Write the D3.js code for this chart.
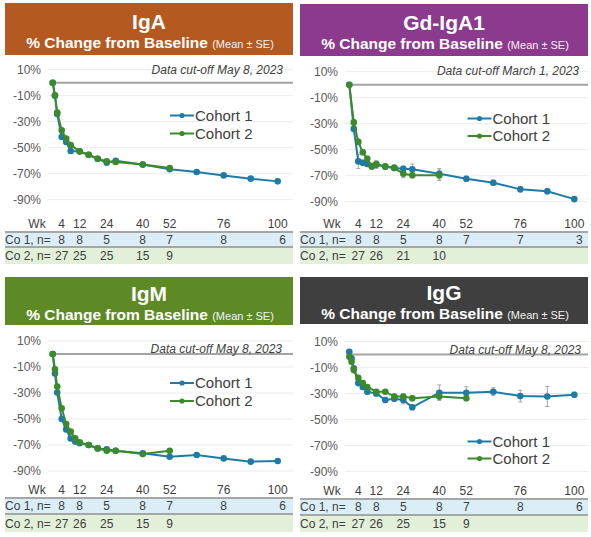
<!DOCTYPE html>
<html><head><meta charset="utf-8">
<script src="https://cdn.jsdelivr.net/npm/d3@7"></script>
<style>
body{margin:0;background:#fff}
svg{display:block}
text{font-family:"Liberation Sans",Arial,Helvetica,sans-serif}
</style>
</head><body>
<svg id="chart" width="591" height="537"></svg>
<script>
// ---------- DATA ----------
const panelTitles = ["IgA", "Gd-IgA1", "IgM", "IgG"];
const subtitleMain = "% Change from Baseline";
const subtitleNote = "(Mean \u00b1 SE)";
const cutoffLabels = ["Data cut-off May 8, 2023", "Data cut-off March 1, 2023", "Data cut-off May 8, 2023", "Data cut-off May 8, 2023"];
const seriesNames = ["Cohort 1", "Cohort 2"];
const yTicks = [10, -10, -30, -50, -70, -90];
const yTickLabels = ["10%", "-10%", "-30%", "-50%", "-70%", "-90%"];
const xTickWeeks = [4, 12, 24, 40, 52, 76, 100];
const xTickLabels = ["4", "12", "24", "40", "52", "76", "100"];
const rowLabels = ["Co 1, n=", "Co 2, n="];

// IgA
const igaWeeks1 = [0, 1, 2, 4, 6, 8, 12, 16, 20, 24, 28, 40, 52, 64, 76, 88, 100];
const igaCo1 = [0, -10, -24, -41.8, -45.6, -52.5, -53, -55.5, -58.5, -61.5, -60, -63, -66.6, -68.7, -71.3, -73.8, -75.9];
const igaWeeks2 = [0, 1, 2, 4, 6, 8, 12, 16, 20, 24, 28, 40, 52];
const igaCo2 = [0, -9.7, -23, -36.6, -43, -48, -52.8, -55.4, -58.5, -60.5, -61, -63, -65.6];
const igaN1 = ["8", "8", "5", "8", "7", "8", "6"];
const igaN2 = ["27", "25", "25", "15", "9"];

// Gd-IgA1
const gdWeeks1 = [0, 2, 4, 6, 8, 10, 12, 16, 20, 24, 28, 40, 52, 64, 76, 88, 100];
const gdCo1 = [0, -34, -59, -60, -61, -62.5, -61.5, -63, -64, -64.6, -65, -68.5, -72.3, -75.4, -80.5, -82, -88];
const gdSe1 = [0, 2, 5.5, 2, 2, 2, 3, 2, 2, 2, 4, 4, 2, 2, 2, 2, 2];
const gdWeeks2 = [0, 2, 4, 6, 8, 10, 12, 16, 20, 24, 28, 40];
const gdCo2 = [0, -29, -44, -52, -57, -63, -61, -63, -64, -68.5, -69.7, -69.7];
const gdSe2 = [0, 2, 2, 2, 2, 2, 2, 2, 2, 3, 2, 4];
const gdN1 = ["8", "8", "5", "8", "7", "7", "3"];
const gdN2 = ["27", "26", "21", "10"];

// IgM
const igmWeeks1 = [0, 1, 2, 4, 6, 8, 10, 12, 16, 20, 24, 28, 40, 52, 64, 76, 88, 100];
const igmCo1 = [0, -15, -29.7, -50, -58, -65, -67.4, -68.7, -70, -72.6, -73.3, -74.4, -76.4, -79, -77.7, -80.3, -82.8, -82.3];
const igmWeeks2 = [0, 1, 2, 4, 6, 8, 10, 12, 16, 20, 24, 28, 40, 52];
const igmCo2 = [0, -11.8, -25, -41.8, -53.8, -59.7, -64.9, -68, -70, -72.6, -74.4, -74.4, -77, -74.4];
const igmN1 = ["8", "8", "5", "8", "7", "8", "6"];
const igmN2 = ["27", "26", "25", "15", "9"];

// IgG
const iggWeeks1 = [0, 1, 2, 4, 6, 8, 12, 16, 20, 24, 28, 40, 52, 64, 76, 88, 100];
const iggCo1 = [2, -3, -10.6, -22, -25, -28.6, -30, -35, -34, -35, -40.6, -29.4, -29.4, -28.6, -32, -32.3, -31];
const iggSe1 = [0, 1, 1, 2, 2, 2, 2, 2, 2, 3, 2, 6, 4.6, 3, 4.5, 7.7, 2];
const iggWeeks2 = [0, 1, 2, 4, 6, 8, 12, 16, 20, 24, 28, 40, 52];
const iggCo2 = [-1.7, -5.5, -12, -18, -22, -25, -28.6, -28.6, -32.4, -32.4, -33.7, -32.4, -33.7];
const iggSe2 = [0, 1, 1, 1, 1, 1, 1, 1, 2, 2, 2, 2, 2];
const iggN1 = ["8", "8", "5", "8", "7", "8", "6"];
const iggN2 = ["27", "26", "25", "15", "9"];

// ---------- ASSEMBLY ----------
const panelData = [
  {w1: igaWeeks1, v1: igaCo1, s1: null, w2: igaWeeks2, v2: igaCo2, s2: null, n1: igaN1, n2: igaN2},
  {w1: gdWeeks1, v1: gdCo1, s1: gdSe1, w2: gdWeeks2, v2: gdCo2, s2: gdSe2, n1: gdN1, n2: gdN2},
  {w1: igmWeeks1, v1: igmCo1, s1: null, w2: igmWeeks2, v2: igmCo2, s2: null, n1: igmN1, n2: igmN2},
  {w1: iggWeeks1, v1: iggCo1, s1: iggSe1, w2: iggWeeks2, v2: iggCo2, s2: iggSe2, n1: iggN1, n2: iggN2}
];

// layout / style per panel
const layouts = [
  {hx: 5, hy: 3, hw: 288, hh: 52, tBase: 29, sBase: 48, xr: [52.7, 277.7], yr: [69.7, 199.7], gx: [48, 293], lblX: 41, cutX: 283, cutY: 74,
   legX: 170, legY: [115.5, 133.5], tickY: 228, lineY: 232, b1: [233, 246], b2: [248, 264], color: "#b4591f"},
  {hx: 300, hy: 4, hw: 288, hh: 52, tBase: 30, sBase: 49, xr: [349.3, 574.3], yr: [71.7, 201.7], gx: [345, 588], lblX: 338, cutX: 579, cutY: 75,
   legX: 467.5, legY: [118.5, 136], tickY: 228, lineY: 232, b1: [233, 246], b2: [248, 264], color: "#8b3a8e"},
  {hx: 5, hy: 277, hw: 288, hh: 48, tBase: 301, sBase: 320, xr: [52.7, 277.7], yr: [341, 471], gx: [48, 293], lblX: 41, cutX: 282, cutY: 353,
   legX: 170, legY: [383, 401], tickY: 494, lineY: 498, b1: [499, 513], b2: [515, 532], color: "#5e8a25"},
  {hx: 300, hy: 277, hw: 288, hh: 47, tBase: 300, sBase: 319, xr: [349.3, 574.3], yr: [341.5, 471.5], gx: [345, 588], lblX: 338, cutX: 581, cutY: 354,
   legX: 467.5, legY: [441.5, 458.5], tickY: 495, lineY: 499, b1: [500, 514], b2: [516, 532], color: "#3f3f3f"}
];

const seriesColors = ["#1f7ba6", "#3b8a2b"];
const svg = d3.select("#chart");

panelData.forEach((pd, i) => {
  const L = layouts[i];
  const g = svg.append("g");

  // header
  g.append("rect").attr("x", L.hx).attr("y", L.hy).attr("width", L.hw).attr("height", L.hh).attr("fill", L.color);
  const cx = L.hx + L.hw / 2;
  g.append("text").attr("x", cx).attr("y", L.tBase).attr("text-anchor", "middle")
    .attr("fill", "#fff").attr("font-size", 21).attr("font-weight", "bold").text(panelTitles[i]);
  const st = g.append("text").attr("x", cx + 1).attr("y", L.sBase).attr("text-anchor", "middle").attr("fill", "#fff");
  st.append("tspan").attr("font-size", 15.5).attr("font-weight", "bold").text(subtitleMain + " ");
  st.append("tspan").attr("font-size", 11).attr("fill", "#f2f2f2").text(subtitleNote);

  const x = d3.scaleLinear().domain([0, 100]).range(L.xr);
  const y = d3.scaleLinear().domain([10, -90]).range(L.yr);

  // gridlines
  g.selectAll(".grid").data(yTicks).enter().append("line")
    .attr("x1", L.gx[0]).attr("x2", L.gx[1]).attr("y1", d => y(d)).attr("y2", d => y(d))
    .attr("stroke", "#ececec").attr("stroke-width", 1);
  // zero line
  g.append("line").attr("x1", x(0)).attr("x2", L.gx[1]).attr("y1", y(0)).attr("y2", y(0))
    .attr("stroke", "#a3a3a3").attr("stroke-width", 2);

  // y axis labels
  g.selectAll(".yl").data(yTicks).enter().append("text")
    .attr("x", L.lblX).attr("y", d => y(d)).attr("dy", "0.35em").attr("text-anchor", "end")
    .attr("font-size", 12).attr("fill", "#595959").text((d, k) => yTickLabels[k]);

  // cut-off
  g.append("text").attr("x", L.cutX).attr("y", L.cutY).attr("text-anchor", "end")
    .attr("font-size", 12).attr("font-style", "italic").attr("fill", "#404040").text(cutoffLabels[i]);

  // series
  const series = [
    {w: pd.w1, v: pd.v1, s: pd.s1, c: seriesColors[0]},
    {w: pd.w2, v: pd.v2, s: pd.s2, c: seriesColors[1]}
  ];
  const line = d3.line().x(d => x(d.w)).y(d => y(d.v));
  // error bars first
  series.forEach(se => {
    if (!se.s) return;
    const pts = se.w.map((w, k) => ({w, v: se.v[k], s: se.s[k]})).filter(d => d.s > 0);
    const eb = g.append("g").attr("stroke", "#a6a6a6").attr("stroke-width", 1);
    pts.forEach(d => {
      eb.append("line").attr("x1", x(d.w)).attr("x2", x(d.w)).attr("y1", y(d.v + d.s)).attr("y2", y(d.v - d.s));
      eb.append("line").attr("x1", x(d.w) - 2).attr("x2", x(d.w) + 2).attr("y1", y(d.v + d.s)).attr("y2", y(d.v + d.s));
      eb.append("line").attr("x1", x(d.w) - 2).attr("x2", x(d.w) + 2).attr("y1", y(d.v - d.s)).attr("y2", y(d.v - d.s));
    });
  });
  series.forEach(se => {
    const pts = se.w.map((w, k) => ({w, v: se.v[k]}));
    g.append("path").datum(pts).attr("d", line).attr("fill", "none").attr("stroke", se.c).attr("stroke-width", 2);
    g.selectAll(null).data(pts).enter().append("circle")
      .attr("cx", d => x(d.w)).attr("cy", d => y(d.v)).attr("r", 3.3).attr("fill", se.c);
  });

  // legend
  seriesNames.forEach((nm, k) => {
    const ly = L.legY[k];
    g.append("line").attr("x1", L.legX).attr("x2", L.legX + 24).attr("y1", ly).attr("y2", ly)
      .attr("stroke", seriesColors[k]).attr("stroke-width", 2);
    g.append("circle").attr("cx", L.legX + 12).attr("cy", ly).attr("r", 2.6).attr("fill", seriesColors[k]);
    g.append("text").attr("x", L.legX + 25).attr("y", ly).attr("dy", "0.36em")
      .attr("font-size", 15).attr("fill", "#404040").text(nm);
  });

  // week axis labels
  g.append("text").attr("x", L.hx + 32).attr("y", L.tickY).attr("text-anchor", "middle")
    .attr("font-size", 12).attr("fill", "#404040").text("Wk");
  g.selectAll(".xt").data(xTickWeeks).enter().append("text")
    .attr("x", d => x(d)).attr("y", L.tickY).attr("text-anchor", "middle")
    .attr("font-size", 12).attr("fill", "#404040").text((d, k) => xTickLabels[k]);

  // table bands
  g.append("rect").attr("x", L.hx).attr("y", L.b1[0]).attr("width", L.hw).attr("height", L.b1[1] - L.b1[0]).attr("fill", "#dbeef7");
  g.append("rect").attr("x", L.hx).attr("y", L.b2[0]).attr("width", L.hw).attr("height", L.b2[1] - L.b2[0]).attr("fill", "#e2efd9");
  g.append("line").attr("x1", L.hx).attr("x2", L.hx + L.hw).attr("y1", L.lineY).attr("y2", L.lineY)
    .attr("stroke", "#a6a6a6").attr("stroke-width", 2.2);
  g.append("line").attr("x1", L.hx).attr("x2", L.hx + L.hw).attr("y1", (L.b1[1] + L.b2[0]) / 2).attr("y2", (L.b1[1] + L.b2[0]) / 2)
    .attr("stroke", "#a6a6a6").attr("stroke-width", 2);

  const rows = [{vals: pd.n1, b: L.b1}, {vals: pd.n2, b: L.b2}];
  rows.forEach((r, k) => {
    const by = (r.b[0] + r.b[1]) / 2;
    g.append("text").attr("x", L.hx).attr("y", by).attr("dy", "0.36em")
      .attr("font-size", 12).attr("fill", "#404040").text(rowLabels[k]);
    g.selectAll(null).data(r.vals).enter().append("text")
      .attr("x", (d, j) => x(xTickWeeks[j]) + (j === 6 ? 5 : 0)).attr("y", by).attr("dy", "0.36em").attr("text-anchor", "middle")
      .attr("font-size", 12).attr("fill", "#404040").text(d => d);
  });
});
</script>
</body></html>
